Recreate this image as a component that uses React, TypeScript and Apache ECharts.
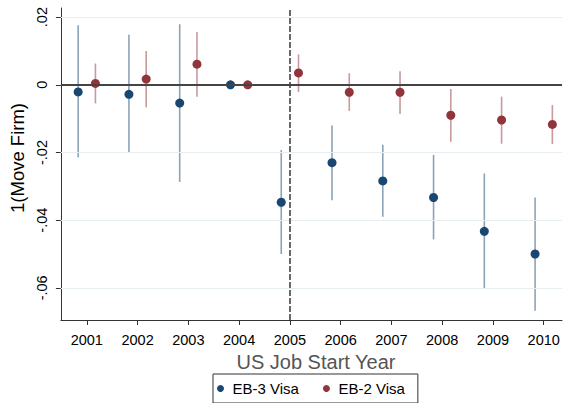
import React, { useEffect, useRef } from "react";
import * as echarts from "echarts";

// Event-study estimates of the probability of moving firm, by US job start year
const years = [2001, 2002, 2003, 2004, 2005, 2006, 2007, 2008, 2009, 2010];

const eb3Coef = [-0.0021, -0.0028, -0.0054, 0, -0.0347, -0.023, -0.0284, -0.0333, -0.0433, -0.05];
const eb3Lo = [-0.0214, -0.0201, -0.0287, 0, -0.05, -0.0341, -0.039, -0.0457, -0.0603, -0.0668];
const eb3Hi = [0.0176, 0.0148, 0.0179, 0, -0.0193, -0.012, -0.0177, -0.0207, -0.0262, -0.0333];

const eb2Coef = [0.0004, 0.0017, 0.0061, 0, 0.0035, -0.0022, -0.0022, -0.009, -0.0104, -0.0117];
const eb2Lo = [-0.0055, -0.0066, -0.0035, 0, -0.0021, -0.0077, -0.0086, -0.0168, -0.0174, -0.0175];
const eb2Hi = [0.0063, 0.01, 0.0156, 0, 0.009, 0.0034, 0.004, -0.0012, -0.0035, -0.006];

const yTicks = [-0.06, -0.04, -0.02, 0, 0.02];
const gridValues = [-0.06, -0.04, -0.02, 0.02];
const baseYear = 2004; // omitted reference year (no interval drawn)
const policyYear = 2005;

const NAVY = "#1a476f";
const MAROON = "#90353b";
const FONT = "'Liberation Sans', Arial, sans-serif";
const OFFSET = 0.17;

function fmtTick(v: number): string {
  if (Math.abs(v) < 1e-9) return "0";
  const s = Math.abs(v).toFixed(2).replace(/^0/, "");
  return (v < 0 ? "-" : "") + s;
}

function ciRows(lo: number[], hi: number[], shift: number) {
  return years
    .map((y, i) => [y + shift, lo[i], hi[i]])
    .filter((_, i) => years[i] !== baseYear);
}

function ciSeries(name: string, rows: number[][], color: string) {
  return {
    type: "custom",
    name,
    z: 2,
    silent: true,
    data: rows,
    encode: { x: 0, y: [1, 2] },
    renderItem: (_params: any, api: any) => {
      const x = api.value(0);
      const p1 = api.coord([x, api.value(1)]);
      const p2 = api.coord([x, api.value(2)]);
      return {
        type: "line",
        shape: { x1: p1[0], y1: p1[1], x2: p2[0], y2: p2[1] },
        style: { stroke: color, lineWidth: 1.6, opacity: 0.5 },
      };
    },
  };
}

export default function App() {
  const ref = useRef<HTMLDivElement>(null);

  useEffect(() => {
    if (!ref.current) return;
    const chart = echarts.init(ref.current, undefined, { renderer: "svg" });

    const option: any = {
      animation: false,
      backgroundColor: "#ffffff",
      textStyle: { fontFamily: FONT },
      grid: { left: 59, right: 1, top: 8, bottom: 83, containLabel: false },
      xAxis: {
        type: "value",
        min: 2000.49,
        max: 2010.36,
        name: "US Job Start Year",
        nameLocation: "middle",
        nameGap: 27,
        nameTextStyle: { fontSize: 20, color: "#555555", fontFamily: FONT, padding: [0, 0, 0, 9] },
        axisLine: { show: true, onZero: false, lineStyle: { color: "#333333", width: 1 } },
        axisTick: { show: true, length: 5, customValues: years, lineStyle: { color: "#333333" } },
        axisLabel: {
          customValues: years,
          margin: 12,
          fontSize: 14.5,
          color: "#000000",
          fontFamily: FONT,
          formatter: (v: number) => String(Math.round(v)),
        },
        splitLine: { show: false },
      },
      yAxis: {
        type: "value",
        min: -0.0695,
        max: 0.0227,
        name: "1(Move Firm)",
        nameLocation: "middle",
        nameGap: 24,
        nameRotate: 90,
        nameTextStyle: { fontSize: 18.5, color: "#000000", fontFamily: FONT, padding: [0, 0, 0, 12] },
        axisLine: { show: true, onZero: false, lineStyle: { color: "#333333", width: 1 } },
        axisTick: { show: true, length: 5, customValues: yTicks, lineStyle: { color: "#333333" } },
        axisLabel: {
          customValues: yTicks,
          rotate: 90,
          margin: 11,
          fontSize: 14.5,
          color: "#000000",
          fontFamily: FONT,
          formatter: fmtTick,
        },
        splitLine: { show: false },
      },
      legend: {
        data: ["EB-3 Visa", "EB-2 Visa"],
        left: 213,
        top: 374,
        orient: "horizontal",
        icon: "circle",
        itemWidth: 14,
        itemHeight: 7,
        itemGap: 24,
        padding: [7, 13, 7, 4],
        borderColor: "#333333",
        borderWidth: 1,
        textStyle: { fontSize: 15, color: "#000000", fontFamily: FONT },
      },
      series: [
        {
          // light horizontal grid lines
          type: "line",
          name: "grid",
          data: [],
          z: 1,
          silent: true,
          markLine: {
            silent: true,
            symbol: "none",
            label: { show: false },
            lineStyle: { color: "#e6eef1", width: 1, type: "solid" },
            data: gridValues.map((v) => ({ yAxis: v })),
          },
        },
        ciSeries("eb3-ci", ciRows(eb3Lo, eb3Hi, -OFFSET), NAVY),
        ciSeries("eb2-ci", ciRows(eb2Lo, eb2Hi, OFFSET), MAROON),
        {
          // zero line and the 2005 reference line
          type: "line",
          name: "refs",
          data: [],
          z: 3,
          silent: true,
          markLine: {
            silent: true,
            symbol: "none",
            label: { show: false },
            data: [
              { yAxis: 0, lineStyle: { color: "#444444", width: 2, type: "solid" } },
              { xAxis: policyYear, lineStyle: { color: "#444444", width: 1.6, type: [6, 2] } },
            ],
          },
        },
        {
          type: "scatter",
          name: "EB-3 Visa",
          z: 4,
          symbol: "circle",
          symbolSize: 9,
          itemStyle: { color: NAVY, opacity: 1 },
          data: years.map((y, i) => [y - OFFSET, eb3Coef[i]]),
        },
        {
          type: "scatter",
          name: "EB-2 Visa",
          z: 4,
          symbol: "circle",
          symbolSize: 9,
          itemStyle: { color: MAROON, opacity: 1 },
          data: years.map((y, i) => [y + OFFSET, eb2Coef[i]]),
        },
      ],
    };

    chart.setOption(option);
    return () => chart.dispose();
  }, []);

  return (
    <div
      ref={ref}
      style={{ width: 563, height: 403, position: "absolute", left: 0, top: 0, background: "#fff" }}
    />
  );
}
